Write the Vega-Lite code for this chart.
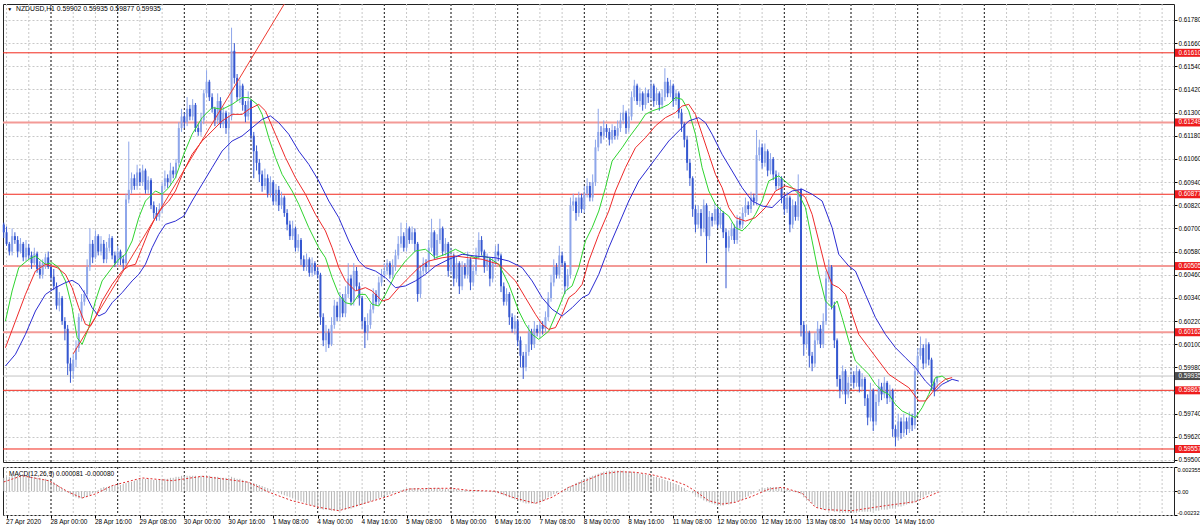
{
"$schema":"https://vega.github.io/schema/vega-lite/v6.json",
"background":"white",
"padding":{"left":1,"top":3,"right":0,"bottom":0},
"spacing":2,
"resolve":{"scale":{"x":"independent","y":"independent","color":"independent"}},
"config":{"view":{"stroke":"#222222","strokeWidth":1},"font":"Liberation Sans","axis":{"labelFont":"Liberation Sans","labelFontSize":6.5,"labelColor":"#000000","tickColor":"#000000","domain":false,"labelOverlap":false,"labelSeparation":0},"text":{"font":"Liberation Sans"}},
"datasets":{
"vgrid":[{"i":-16},{"i":-8},{"i":0},{"i":8},{"i":16},{"i":24},{"i":32},{"i":40},{"i":48},{"i":56},{"i":64},{"i":72},{"i":80},{"i":88},{"i":96},{"i":104},{"i":112},{"i":120},{"i":128},{"i":136},{"i":144},{"i":152},{"i":160},{"i":168},{"i":176},{"i":184},{"i":192},{"i":200},{"i":208},{"i":216},{"i":224},{"i":232},{"i":240},{"i":248},{"i":256},{"i":264},{"i":272},{"i":280},{"i":288},{"i":296},{"i":304},{"i":312},{"i":320},{"i":328},{"i":336},{"i":344},{"i":352},{"i":360},{"i":368},{"i":376},{"i":384},{"i":392},{"i":400}],
"days":[{"i":0},{"i":24},{"i":48},{"i":72},{"i":96},{"i":120},{"i":144},{"i":168},{"i":192},{"i":216},{"i":240},{"i":264},{"i":288},{"i":312},{"i":336}],
"lvthin":[{"p":0.6161},{"p":0.60877},{"p":0.59861},{"p":0.59557}],
"lvthick":[{"p":0.61249},{"p":0.60505},{"p":0.60162}],
"lvall":[{"p":0.6161},{"p":0.61249},{"p":0.60877},{"p":0.60505},{"p":0.60162},{"p":0.59861},{"p":0.59557}],
"cur":[{"p":0.59935}],
"trend":[{"i":8,"p":0.6005},{"i":87,"p":0.61935}],
"head":[{"t":"NZDUSD,H1  0.59902 0.59935 0.59877 0.59935"}],
"mhead":[{"t":"MACD(12,26,9) 0.000081 -0.000080"}],
"bars":[
{"i":-17,"o":0.6072,"h":0.6073,"l":0.6065,"c":0.6068,"m":0.0013},
{"i":-16,"o":0.6068,"h":0.6071,"l":0.6061,"c":0.6062,"m":0.0014},
{"i":-15,"o":0.6062,"h":0.6063,"l":0.6056,"c":0.6058,"m":0.0014},
{"i":-14,"o":0.6058,"h":0.607,"l":0.6056,"c":0.6066,"m":0.0015},
{"i":-13,"o":0.6066,"h":0.6068,"l":0.6062,"c":0.6064,"m":0.0015},
{"i":-12,"o":0.6064,"h":0.6066,"l":0.6055,"c":0.6058,"m":0.0015},
{"i":-11,"o":0.6058,"h":0.6065,"l":0.6057,"c":0.6062,"m":0.0015},
{"i":-10,"o":0.6062,"h":0.6063,"l":0.6053,"c":0.6055,"m":0.0015},
{"i":-9,"o":0.6055,"h":0.6064,"l":0.6053,"c":0.606,"m":0.0015},
{"i":-8,"o":0.606,"h":0.6062,"l":0.6054,"c":0.6056,"m":0.0014},
{"i":-7,"o":0.6056,"h":0.6058,"l":0.6049,"c":0.6052,"m":0.0014},
{"i":-6,"o":0.6052,"h":0.606,"l":0.6051,"c":0.6057,"m":0.0014},
{"i":-5,"o":0.6057,"h":0.6058,"l":0.6047,"c":0.6049,"m":0.0013},
{"i":-4,"o":0.6049,"h":0.6053,"l":0.6044,"c":0.6046,"m":0.0013},
{"i":-3,"o":0.6046,"h":0.6054,"l":0.6044,"c":0.6052,"m":0.0012},
{"i":-2,"o":0.6052,"h":0.6057,"l":0.6049,"c":0.6055,"m":0.0012},
{"i":-1,"o":0.6055,"h":0.6058,"l":0.6049,"c":0.605,"m":0.0011},
{"i":0,"o":0.605,"h":0.6051,"l":0.6043,"c":0.6045,"m":0.001},
{"i":1,"o":0.6045,"h":0.6049,"l":0.6038,"c":0.604,"m":0.0009},
{"i":2,"o":0.604,"h":0.6042,"l":0.6028,"c":0.603,"m":0.0007},
{"i":3,"o":0.603,"h":0.6037,"l":0.6027,"c":0.6034,"m":0.0005},
{"i":4,"o":0.6034,"h":0.6035,"l":0.602,"c":0.6022,"m":0.0003},
{"i":5,"o":0.6022,"h":0.6024,"l":0.6012,"c":0.6018,"m":0.0001},
{"i":6,"o":0.6018,"h":0.602,"l":0.5994,"c":0.6,"m":-0.0001},
{"i":7,"o":0.6,"h":0.6003,"l":0.599,"c":0.5996,"m":-0.0003},
{"i":8,"o":0.5996,"h":0.6005,"l":0.5992,"c":0.6002,"m":-0.0005},
{"i":9,"o":0.6002,"h":0.6012,"l":0.5998,"c":0.6008,"m":-0.0006},
{"i":10,"o":0.6008,"h":0.6026,"l":0.6006,"c":0.6024,"m":-0.0007},
{"i":11,"o":0.6024,"h":0.6036,"l":0.6022,"c":0.6032,"m":-0.0007},
{"i":12,"o":0.6032,"h":0.6038,"l":0.603,"c":0.6036,"m":-0.0006},
{"i":13,"o":0.6036,"h":0.6054,"l":0.6034,"c":0.605,"m":-0.0005},
{"i":14,"o":0.605,"h":0.607,"l":0.6048,"c":0.6062,"m":-0.0004},
{"i":15,"o":0.6062,"h":0.6064,"l":0.6052,"c":0.6055,"m":-0.0002},
{"i":16,"o":0.6055,"h":0.6069,"l":0.6054,"c":0.6066,"m":-0.0001},
{"i":17,"o":0.6066,"h":0.6067,"l":0.6056,"c":0.6058,"m":0.0001},
{"i":18,"o":0.6058,"h":0.6066,"l":0.6056,"c":0.6062,"m":0.0003},
{"i":19,"o":0.6062,"h":0.6064,"l":0.6052,"c":0.6054,"m":0.0004},
{"i":20,"o":0.6054,"h":0.6063,"l":0.6052,"c":0.606,"m":0.0004},
{"i":21,"o":0.606,"h":0.6067,"l":0.6058,"c":0.6065,"m":0.0005},
{"i":22,"o":0.6065,"h":0.6066,"l":0.6054,"c":0.6056,"m":0.0005},
{"i":23,"o":0.6056,"h":0.6058,"l":0.605,"c":0.6052,"m":0.0006},
{"i":24,"o":0.6052,"h":0.6061,"l":0.605,"c":0.6058,"m":0.0006},
{"i":25,"o":0.6058,"h":0.6059,"l":0.6051,"c":0.6054,"m":0.0006},
{"i":26,"o":0.6054,"h":0.6056,"l":0.6048,"c":0.6052,"m":0.0007},
{"i":27,"o":0.6052,"h":0.6088,"l":0.6051,"c":0.6085,"m":0.0008},
{"i":28,"o":0.6085,"h":0.6115,"l":0.6083,"c":0.609,"m":0.0009},
{"i":29,"o":0.609,"h":0.6099,"l":0.6088,"c":0.6096,"m":0.0009},
{"i":30,"o":0.6096,"h":0.6098,"l":0.609,"c":0.6092,"m":0.001},
{"i":31,"o":0.6092,"h":0.6103,"l":0.609,"c":0.6099,"m":0.0011},
{"i":32,"o":0.6099,"h":0.6101,"l":0.6092,"c":0.6094,"m":0.0012},
{"i":33,"o":0.6094,"h":0.6103,"l":0.6092,"c":0.61,"m":0.0012},
{"i":34,"o":0.61,"h":0.6101,"l":0.6088,"c":0.609,"m":0.0012},
{"i":35,"o":0.609,"h":0.6097,"l":0.6088,"c":0.6095,"m":0.0012},
{"i":36,"o":0.6095,"h":0.6096,"l":0.608,"c":0.6082,"m":0.0011},
{"i":37,"o":0.6082,"h":0.6084,"l":0.6075,"c":0.6078,"m":0.0011},
{"i":38,"o":0.6078,"h":0.6081,"l":0.6074,"c":0.6076,"m":0.0011},
{"i":39,"o":0.6076,"h":0.6083,"l":0.6074,"c":0.608,"m":0.0011},
{"i":40,"o":0.608,"h":0.6094,"l":0.6078,"c":0.6092,"m":0.0012},
{"i":41,"o":0.6092,"h":0.61,"l":0.609,"c":0.6096,"m":0.0012},
{"i":42,"o":0.6096,"h":0.6098,"l":0.6091,"c":0.6094,"m":0.0012},
{"i":43,"o":0.6094,"h":0.6104,"l":0.6092,"c":0.61,"m":0.0013},
{"i":44,"o":0.61,"h":0.6102,"l":0.6096,"c":0.6098,"m":0.0013},
{"i":45,"o":0.6098,"h":0.6106,"l":0.6096,"c":0.6104,"m":0.0014},
{"i":46,"o":0.6104,"h":0.6125,"l":0.6102,"c":0.6122,"m":0.0014},
{"i":47,"o":0.6122,"h":0.6132,"l":0.612,"c":0.6128,"m":0.0015},
{"i":48,"o":0.6128,"h":0.613,"l":0.6122,"c":0.6125,"m":0.0015},
{"i":49,"o":0.6125,"h":0.6138,"l":0.6123,"c":0.6132,"m":0.0015},
{"i":50,"o":0.6132,"h":0.6134,"l":0.6126,"c":0.6128,"m":0.0015},
{"i":51,"o":0.6128,"h":0.6137,"l":0.6126,"c":0.6134,"m":0.0015},
{"i":52,"o":0.6134,"h":0.6135,"l":0.612,"c":0.6122,"m":0.0015},
{"i":53,"o":0.6122,"h":0.6124,"l":0.6118,"c":0.612,"m":0.0014},
{"i":54,"o":0.612,"h":0.613,"l":0.6118,"c":0.6126,"m":0.0015},
{"i":55,"o":0.6126,"h":0.6142,"l":0.6124,"c":0.614,"m":0.0015},
{"i":56,"o":0.614,"h":0.6152,"l":0.6138,"c":0.6146,"m":0.0015},
{"i":57,"o":0.6146,"h":0.6147,"l":0.6136,"c":0.6138,"m":0.0015},
{"i":58,"o":0.6138,"h":0.614,"l":0.613,"c":0.6132,"m":0.0014},
{"i":59,"o":0.6132,"h":0.6133,"l":0.6123,"c":0.6126,"m":0.0014},
{"i":60,"o":0.6126,"h":0.614,"l":0.6124,"c":0.6136,"m":0.0014},
{"i":61,"o":0.6136,"h":0.6138,"l":0.6122,"c":0.6124,"m":0.0013},
{"i":62,"o":0.6124,"h":0.6133,"l":0.6122,"c":0.613,"m":0.0013},
{"i":63,"o":0.613,"h":0.6131,"l":0.6119,"c":0.6122,"m":0.0013},
{"i":64,"o":0.6122,"h":0.613,"l":0.6105,"c":0.6128,"m":0.0013},
{"i":65,"o":0.6128,"h":0.6174,"l":0.6126,"c":0.6162,"m":0.0014},
{"i":66,"o":0.6162,"h":0.6166,"l":0.6145,"c":0.6148,"m":0.0013},
{"i":67,"o":0.6148,"h":0.615,"l":0.6136,"c":0.6138,"m":0.0012},
{"i":68,"o":0.6138,"h":0.6147,"l":0.6135,"c":0.6144,"m":0.0012},
{"i":69,"o":0.6144,"h":0.6145,"l":0.6131,"c":0.6134,"m":0.0011},
{"i":70,"o":0.6134,"h":0.6136,"l":0.6125,"c":0.6128,"m":0.001},
{"i":71,"o":0.6128,"h":0.6141,"l":0.6126,"c":0.6136,"m":0.0009},
{"i":72,"o":0.6136,"h":0.6137,"l":0.6116,"c":0.6118,"m":0.0008},
{"i":73,"o":0.6118,"h":0.612,"l":0.6096,"c":0.611,"m":0.0008},
{"i":74,"o":0.611,"h":0.6113,"l":0.61,"c":0.6104,"m":0.0007},
{"i":75,"o":0.6104,"h":0.6106,"l":0.6094,"c":0.6098,"m":0.0006},
{"i":76,"o":0.6098,"h":0.61,"l":0.6089,"c":0.6092,"m":0.0005},
{"i":77,"o":0.6092,"h":0.6101,"l":0.609,"c":0.6096,"m":0.0004},
{"i":78,"o":0.6096,"h":0.6098,"l":0.6086,"c":0.6088,"m":0.0003},
{"i":79,"o":0.6088,"h":0.6097,"l":0.6086,"c":0.6094,"m":0.0002},
{"i":80,"o":0.6094,"h":0.6095,"l":0.6082,"c":0.6084,"m":0.0001},
{"i":81,"o":0.6084,"h":0.6093,"l":0.6082,"c":0.609,"m":0},
{"i":82,"o":0.609,"h":0.6092,"l":0.6079,"c":0.6082,"m":-0.0002},
{"i":83,"o":0.6082,"h":0.6089,"l":0.608,"c":0.6086,"m":-0.0003},
{"i":84,"o":0.6086,"h":0.6087,"l":0.6076,"c":0.6078,"m":-0.0004},
{"i":85,"o":0.6078,"h":0.608,"l":0.6069,"c":0.6072,"m":-0.0005},
{"i":86,"o":0.6072,"h":0.6074,"l":0.6064,"c":0.6066,"m":-0.0006},
{"i":87,"o":0.6066,"h":0.6074,"l":0.6064,"c":0.607,"m":-0.0007},
{"i":88,"o":0.607,"h":0.6071,"l":0.6058,"c":0.606,"m":-0.0008},
{"i":89,"o":0.606,"h":0.6067,"l":0.6058,"c":0.6064,"m":-0.0009},
{"i":90,"o":0.6064,"h":0.6065,"l":0.6051,"c":0.6054,"m":-0.001},
{"i":91,"o":0.6054,"h":0.6056,"l":0.6048,"c":0.605,"m":-0.0011},
{"i":92,"o":0.605,"h":0.6057,"l":0.6048,"c":0.6054,"m":-0.0012},
{"i":93,"o":0.6054,"h":0.6055,"l":0.6045,"c":0.6047,"m":-0.0013},
{"i":94,"o":0.6047,"h":0.6055,"l":0.6045,"c":0.6052,"m":-0.0014},
{"i":95,"o":0.6052,"h":0.6053,"l":0.6046,"c":0.6048,"m":-0.0015},
{"i":96,"o":0.6048,"h":0.605,"l":0.6044,"c":0.6046,"m":-0.0016},
{"i":97,"o":0.6046,"h":0.6047,"l":0.602,"c":0.6024,"m":-0.0017},
{"i":98,"o":0.6024,"h":0.6026,"l":0.6009,"c":0.6012,"m":-0.0018},
{"i":99,"o":0.6012,"h":0.602,"l":0.6006,"c":0.6016,"m":-0.0018},
{"i":100,"o":0.6016,"h":0.6018,"l":0.6008,"c":0.601,"m":-0.0018},
{"i":101,"o":0.601,"h":0.6024,"l":0.6009,"c":0.602,"m":-0.0019},
{"i":102,"o":0.602,"h":0.6033,"l":0.6018,"c":0.603,"m":-0.0019},
{"i":103,"o":0.603,"h":0.6032,"l":0.6022,"c":0.6024,"m":-0.0019},
{"i":104,"o":0.6024,"h":0.6037,"l":0.6022,"c":0.6034,"m":-0.0019},
{"i":105,"o":0.6034,"h":0.6036,"l":0.6024,"c":0.6026,"m":-0.0018},
{"i":106,"o":0.6026,"h":0.604,"l":0.6024,"c":0.6036,"m":-0.0018},
{"i":107,"o":0.6036,"h":0.6052,"l":0.6034,"c":0.6044,"m":-0.0017},
{"i":108,"o":0.6044,"h":0.6046,"l":0.603,"c":0.6032,"m":-0.0017},
{"i":109,"o":0.6032,"h":0.6052,"l":0.603,"c":0.6048,"m":-0.0016},
{"i":110,"o":0.6048,"h":0.605,"l":0.6038,"c":0.604,"m":-0.0015},
{"i":111,"o":0.604,"h":0.6042,"l":0.603,"c":0.6034,"m":-0.0014},
{"i":112,"o":0.6034,"h":0.6035,"l":0.6018,"c":0.6022,"m":-0.0013},
{"i":113,"o":0.6022,"h":0.6024,"l":0.6008,"c":0.6016,"m":-0.0012},
{"i":114,"o":0.6016,"h":0.6026,"l":0.6012,"c":0.602,"m":-0.0011},
{"i":115,"o":0.602,"h":0.6031,"l":0.6018,"c":0.6028,"m":-0.001},
{"i":116,"o":0.6028,"h":0.6039,"l":0.6026,"c":0.6036,"m":-0.0009},
{"i":117,"o":0.6036,"h":0.6038,"l":0.603,"c":0.6032,"m":-0.0008},
{"i":118,"o":0.6032,"h":0.6045,"l":0.603,"c":0.6042,"m":-0.0007},
{"i":119,"o":0.6042,"h":0.6049,"l":0.604,"c":0.6046,"m":-0.0006},
{"i":120,"o":0.6046,"h":0.6052,"l":0.6044,"c":0.6048,"m":-0.0005},
{"i":121,"o":0.6048,"h":0.6054,"l":0.6046,"c":0.6052,"m":-0.0004},
{"i":122,"o":0.6052,"h":0.6053,"l":0.6044,"c":0.6046,"m":-0.0003},
{"i":123,"o":0.6046,"h":0.6054,"l":0.6044,"c":0.605,"m":-0.0002},
{"i":124,"o":0.605,"h":0.6059,"l":0.6048,"c":0.6056,"m":-0.0001},
{"i":125,"o":0.6056,"h":0.6066,"l":0.6054,"c":0.6062,"m":0},
{"i":126,"o":0.6062,"h":0.6073,"l":0.606,"c":0.6066,"m":0.0001},
{"i":127,"o":0.6066,"h":0.6068,"l":0.6058,"c":0.606,"m":0.0002},
{"i":128,"o":0.606,"h":0.6073,"l":0.6058,"c":0.607,"m":0.0002},
{"i":129,"o":0.607,"h":0.6071,"l":0.6062,"c":0.6064,"m":0.0003},
{"i":130,"o":0.6064,"h":0.6071,"l":0.6062,"c":0.6068,"m":0.0003},
{"i":131,"o":0.6068,"h":0.607,"l":0.6058,"c":0.6062,"m":0.0003},
{"i":132,"o":0.6062,"h":0.6063,"l":0.6032,"c":0.6036,"m":0.0003},
{"i":133,"o":0.6036,"h":0.6051,"l":0.6034,"c":0.6048,"m":0.0002},
{"i":134,"o":0.6048,"h":0.6055,"l":0.6046,"c":0.6052,"m":0.0002},
{"i":135,"o":0.6052,"h":0.6054,"l":0.6047,"c":0.605,"m":0.0003},
{"i":136,"o":0.605,"h":0.6064,"l":0.6048,"c":0.606,"m":0.0003},
{"i":137,"o":0.606,"h":0.6075,"l":0.6058,"c":0.6068,"m":0.0003},
{"i":138,"o":0.6068,"h":0.6069,"l":0.6054,"c":0.6056,"m":0.0003},
{"i":139,"o":0.6056,"h":0.6067,"l":0.6054,"c":0.6064,"m":0.0003},
{"i":140,"o":0.6064,"h":0.6075,"l":0.6062,"c":0.607,"m":0.0003},
{"i":141,"o":0.607,"h":0.6071,"l":0.6056,"c":0.6058,"m":0.0002},
{"i":142,"o":0.6058,"h":0.6065,"l":0.6056,"c":0.6062,"m":0.0002},
{"i":143,"o":0.6062,"h":0.6063,"l":0.6045,"c":0.6048,"m":0.0002},
{"i":144,"o":0.6048,"h":0.606,"l":0.6046,"c":0.6056,"m":0.0002},
{"i":145,"o":0.6056,"h":0.6057,"l":0.604,"c":0.6044,"m":0.0002},
{"i":146,"o":0.6044,"h":0.6055,"l":0.6042,"c":0.6052,"m":0.0002},
{"i":147,"o":0.6052,"h":0.6053,"l":0.6036,"c":0.604,"m":0.0001},
{"i":148,"o":0.604,"h":0.6053,"l":0.6038,"c":0.605,"m":0.0001},
{"i":149,"o":0.605,"h":0.6052,"l":0.6044,"c":0.6046,"m":0.0001},
{"i":150,"o":0.6046,"h":0.6058,"l":0.6044,"c":0.6054,"m":0.0001},
{"i":151,"o":0.6054,"h":0.6055,"l":0.6038,"c":0.6042,"m":0.0001},
{"i":152,"o":0.6042,"h":0.6051,"l":0.604,"c":0.6048,"m":0.0001},
{"i":153,"o":0.6048,"h":0.606,"l":0.6046,"c":0.6056,"m":0.0001},
{"i":154,"o":0.6056,"h":0.6068,"l":0.6054,"c":0.6064,"m":0.0001},
{"i":155,"o":0.6064,"h":0.6066,"l":0.6056,"c":0.6058,"m":0},
{"i":156,"o":0.6058,"h":0.6059,"l":0.6047,"c":0.605,"m":0},
{"i":157,"o":0.605,"h":0.6057,"l":0.6048,"c":0.6054,"m":0},
{"i":158,"o":0.6054,"h":0.6055,"l":0.604,"c":0.6044,"m":0},
{"i":159,"o":0.6044,"h":0.6055,"l":0.6042,"c":0.6052,"m":-0.0001},
{"i":160,"o":0.6052,"h":0.6061,"l":0.605,"c":0.6058,"m":-0.0001},
{"i":161,"o":0.6058,"h":0.6062,"l":0.6053,"c":0.6056,"m":-0.0002},
{"i":162,"o":0.6056,"h":0.6057,"l":0.6037,"c":0.604,"m":-0.0003},
{"i":163,"o":0.604,"h":0.6042,"l":0.603,"c":0.6032,"m":-0.0004},
{"i":164,"o":0.6032,"h":0.6039,"l":0.603,"c":0.6036,"m":-0.0005},
{"i":165,"o":0.6036,"h":0.6037,"l":0.602,"c":0.6024,"m":-0.0006},
{"i":166,"o":0.6024,"h":0.6026,"l":0.6016,"c":0.6018,"m":-0.0007},
{"i":167,"o":0.6018,"h":0.6025,"l":0.6015,"c":0.6022,"m":-0.0008},
{"i":168,"o":0.6022,"h":0.6023,"l":0.6009,"c":0.6012,"m":-0.0009},
{"i":169,"o":0.6012,"h":0.6014,"l":0.5998,"c":0.6004,"m":-0.001},
{"i":170,"o":0.6004,"h":0.6006,"l":0.5992,"c":0.5998,"m":-0.0011},
{"i":171,"o":0.5998,"h":0.601,"l":0.5996,"c":0.6006,"m":-0.0012},
{"i":172,"o":0.6006,"h":0.602,"l":0.6004,"c":0.6016,"m":-0.0012},
{"i":173,"o":0.6016,"h":0.6018,"l":0.6007,"c":0.601,"m":-0.0012},
{"i":174,"o":0.601,"h":0.6022,"l":0.6008,"c":0.6018,"m":-0.0012},
{"i":175,"o":0.6018,"h":0.602,"l":0.6014,"c":0.6016,"m":-0.0012},
{"i":176,"o":0.6016,"h":0.6023,"l":0.6013,"c":0.602,"m":-0.0011},
{"i":177,"o":0.602,"h":0.6022,"l":0.6015,"c":0.6018,"m":-0.001},
{"i":178,"o":0.6018,"h":0.6027,"l":0.6016,"c":0.6024,"m":-0.0008},
{"i":179,"o":0.6024,"h":0.6037,"l":0.6022,"c":0.6034,"m":-0.0006},
{"i":180,"o":0.6034,"h":0.6046,"l":0.6032,"c":0.6042,"m":-0.0005},
{"i":181,"o":0.6042,"h":0.6054,"l":0.604,"c":0.605,"m":-0.0003},
{"i":182,"o":0.605,"h":0.6052,"l":0.6044,"c":0.6046,"m":-0.0002},
{"i":183,"o":0.6046,"h":0.6061,"l":0.6044,"c":0.6056,"m":0},
{"i":184,"o":0.6056,"h":0.6058,"l":0.605,"c":0.6052,"m":0.0001},
{"i":185,"o":0.6052,"h":0.6053,"l":0.6036,"c":0.604,"m":0.0002},
{"i":186,"o":0.604,"h":0.6049,"l":0.6038,"c":0.6046,"m":0.0004},
{"i":187,"o":0.6046,"h":0.6086,"l":0.6044,"c":0.6082,"m":0.0005},
{"i":188,"o":0.6082,"h":0.6088,"l":0.6079,"c":0.6084,"m":0.0006},
{"i":189,"o":0.6084,"h":0.6086,"l":0.6074,"c":0.6078,"m":0.0008},
{"i":190,"o":0.6078,"h":0.6089,"l":0.6076,"c":0.6086,"m":0.0009},
{"i":191,"o":0.6086,"h":0.6088,"l":0.6078,"c":0.608,"m":0.0011},
{"i":192,"o":0.608,"h":0.6092,"l":0.6078,"c":0.6088,"m":0.0012},
{"i":193,"o":0.6088,"h":0.6096,"l":0.6086,"c":0.6092,"m":0.0013},
{"i":194,"o":0.6092,"h":0.6094,"l":0.6084,"c":0.6086,"m":0.0014},
{"i":195,"o":0.6086,"h":0.6098,"l":0.6084,"c":0.6094,"m":0.0015},
{"i":196,"o":0.6094,"h":0.6116,"l":0.6092,"c":0.6112,"m":0.0016},
{"i":197,"o":0.6112,"h":0.6132,"l":0.611,"c":0.612,"m":0.0017},
{"i":198,"o":0.612,"h":0.6123,"l":0.6114,"c":0.6118,"m":0.0018},
{"i":199,"o":0.6118,"h":0.6126,"l":0.6116,"c":0.6122,"m":0.0019},
{"i":200,"o":0.6122,"h":0.6124,"l":0.6117,"c":0.612,"m":0.0019},
{"i":201,"o":0.612,"h":0.6122,"l":0.6113,"c":0.6116,"m":0.002},
{"i":202,"o":0.6116,"h":0.6124,"l":0.6114,"c":0.6121,"m":0.002},
{"i":203,"o":0.6121,"h":0.6123,"l":0.6116,"c":0.6118,"m":0.002},
{"i":204,"o":0.6118,"h":0.6126,"l":0.6116,"c":0.6122,"m":0.002},
{"i":205,"o":0.6122,"h":0.613,"l":0.612,"c":0.6126,"m":0.002},
{"i":206,"o":0.6126,"h":0.6134,"l":0.6124,"c":0.613,"m":0.002},
{"i":207,"o":0.613,"h":0.6131,"l":0.6119,"c":0.6122,"m":0.0019},
{"i":208,"o":0.6122,"h":0.6132,"l":0.612,"c":0.6128,"m":0.0019},
{"i":209,"o":0.6128,"h":0.6141,"l":0.6126,"c":0.6138,"m":0.0019},
{"i":210,"o":0.6138,"h":0.6147,"l":0.6136,"c":0.6144,"m":0.0018},
{"i":211,"o":0.6144,"h":0.6145,"l":0.6134,"c":0.6136,"m":0.0018},
{"i":212,"o":0.6136,"h":0.6143,"l":0.6133,"c":0.614,"m":0.0017},
{"i":213,"o":0.614,"h":0.6141,"l":0.6131,"c":0.6134,"m":0.0017},
{"i":214,"o":0.6134,"h":0.6143,"l":0.6132,"c":0.614,"m":0.0016},
{"i":215,"o":0.614,"h":0.6142,"l":0.6135,"c":0.6138,"m":0.0016},
{"i":216,"o":0.6138,"h":0.6147,"l":0.6136,"c":0.6144,"m":0.0015},
{"i":217,"o":0.6144,"h":0.6145,"l":0.6133,"c":0.6136,"m":0.0014},
{"i":218,"o":0.6136,"h":0.6143,"l":0.6134,"c":0.614,"m":0.0014},
{"i":219,"o":0.614,"h":0.6141,"l":0.6131,"c":0.6134,"m":0.0013},
{"i":220,"o":0.6134,"h":0.6142,"l":0.6132,"c":0.6138,"m":0.0012},
{"i":221,"o":0.6138,"h":0.6153,"l":0.6136,"c":0.6146,"m":0.0011},
{"i":222,"o":0.6146,"h":0.6148,"l":0.6138,"c":0.614,"m":0.001},
{"i":223,"o":0.614,"h":0.6147,"l":0.6138,"c":0.6144,"m":0.0009},
{"i":224,"o":0.6144,"h":0.6145,"l":0.6133,"c":0.6136,"m":0.0008},
{"i":225,"o":0.6136,"h":0.6142,"l":0.6134,"c":0.614,"m":0.0007},
{"i":226,"o":0.614,"h":0.6141,"l":0.6127,"c":0.613,"m":0.0006},
{"i":227,"o":0.613,"h":0.6132,"l":0.612,"c":0.6124,"m":0.0004},
{"i":228,"o":0.6124,"h":0.6125,"l":0.6112,"c":0.6116,"m":0.0003},
{"i":229,"o":0.6116,"h":0.6118,"l":0.61,"c":0.6104,"m":0.0001},
{"i":230,"o":0.6104,"h":0.6106,"l":0.6092,"c":0.6096,"m":0},
{"i":231,"o":0.6096,"h":0.6097,"l":0.6076,"c":0.608,"m":-0.0002},
{"i":232,"o":0.608,"h":0.6082,"l":0.6068,"c":0.6072,"m":-0.0004},
{"i":233,"o":0.6072,"h":0.6082,"l":0.607,"c":0.6078,"m":-0.0006},
{"i":234,"o":0.6078,"h":0.608,"l":0.6066,"c":0.607,"m":-0.0007},
{"i":235,"o":0.607,"h":0.6085,"l":0.6068,"c":0.6082,"m":-0.0009},
{"i":236,"o":0.6082,"h":0.6083,"l":0.6052,"c":0.6066,"m":-0.001},
{"i":237,"o":0.6066,"h":0.6079,"l":0.6064,"c":0.6076,"m":-0.0011},
{"i":238,"o":0.6076,"h":0.6078,"l":0.6071,"c":0.6074,"m":-0.0012},
{"i":239,"o":0.6074,"h":0.6083,"l":0.6072,"c":0.608,"m":-0.0013},
{"i":240,"o":0.608,"h":0.6081,"l":0.607,"c":0.6072,"m":-0.0014},
{"i":241,"o":0.6072,"h":0.6081,"l":0.607,"c":0.6078,"m":-0.0014},
{"i":242,"o":0.6078,"h":0.6079,"l":0.6065,"c":0.6068,"m":-0.0014},
{"i":243,"o":0.6068,"h":0.607,"l":0.6039,"c":0.606,"m":-0.0013},
{"i":244,"o":0.606,"h":0.6069,"l":0.6058,"c":0.6066,"m":-0.0013},
{"i":245,"o":0.6066,"h":0.6073,"l":0.6064,"c":0.607,"m":-0.0012},
{"i":246,"o":0.607,"h":0.6072,"l":0.6062,"c":0.6064,"m":-0.0011},
{"i":247,"o":0.6064,"h":0.6077,"l":0.6062,"c":0.6074,"m":-0.001},
{"i":248,"o":0.6074,"h":0.6076,"l":0.607,"c":0.6072,"m":-0.0009},
{"i":249,"o":0.6072,"h":0.6081,"l":0.607,"c":0.6078,"m":-0.0008},
{"i":250,"o":0.6078,"h":0.6086,"l":0.6076,"c":0.6082,"m":-0.0006},
{"i":251,"o":0.6082,"h":0.6084,"l":0.6077,"c":0.608,"m":-0.0005},
{"i":252,"o":0.608,"h":0.6089,"l":0.6078,"c":0.6086,"m":-0.0003},
{"i":253,"o":0.6086,"h":0.6088,"l":0.6082,"c":0.6084,"m":-0.0002},
{"i":254,"o":0.6084,"h":0.6121,"l":0.6082,"c":0.6108,"m":0},
{"i":255,"o":0.6108,"h":0.6116,"l":0.6105,"c":0.6112,"m":0.0002},
{"i":256,"o":0.6112,"h":0.6114,"l":0.6101,"c":0.6104,"m":0.0003},
{"i":257,"o":0.6104,"h":0.6114,"l":0.6102,"c":0.611,"m":0.0003},
{"i":258,"o":0.611,"h":0.6111,"l":0.6097,"c":0.61,"m":0.0004},
{"i":259,"o":0.61,"h":0.6109,"l":0.6098,"c":0.6106,"m":0.0004},
{"i":260,"o":0.6106,"h":0.6107,"l":0.6095,"c":0.6098,"m":0.0004},
{"i":261,"o":0.6098,"h":0.61,"l":0.609,"c":0.6092,"m":0.0004},
{"i":262,"o":0.6092,"h":0.6099,"l":0.609,"c":0.6096,"m":0.0004},
{"i":263,"o":0.6096,"h":0.6097,"l":0.6083,"c":0.6086,"m":0.0003},
{"i":264,"o":0.6086,"h":0.6088,"l":0.6077,"c":0.608,"m":0.0003},
{"i":265,"o":0.608,"h":0.6089,"l":0.6078,"c":0.6086,"m":0.0002},
{"i":266,"o":0.6086,"h":0.6087,"l":0.6068,"c":0.6072,"m":0.0001},
{"i":267,"o":0.6072,"h":0.6085,"l":0.607,"c":0.6082,"m":0},
{"i":268,"o":0.6082,"h":0.6084,"l":0.6074,"c":0.6076,"m":-0.0001},
{"i":269,"o":0.6076,"h":0.6098,"l":0.6074,"c":0.609,"m":-0.0002},
{"i":270,"o":0.609,"h":0.6091,"l":0.6014,"c":0.602,"m":-0.0003},
{"i":271,"o":0.602,"h":0.6022,"l":0.6004,"c":0.601,"m":-0.0006},
{"i":272,"o":0.601,"h":0.602,"l":0.6008,"c":0.6016,"m":-0.0008},
{"i":273,"o":0.6016,"h":0.6017,"l":0.5998,"c":0.6004,"m":-0.001},
{"i":274,"o":0.6004,"h":0.6006,"l":0.5996,"c":0.6,"m":-0.0012},
{"i":275,"o":0.6,"h":0.6016,"l":0.5998,"c":0.6012,"m":-0.0014},
{"i":276,"o":0.6012,"h":0.6022,"l":0.601,"c":0.6018,"m":-0.0016},
{"i":277,"o":0.6018,"h":0.602,"l":0.6008,"c":0.601,"m":-0.0017},
{"i":278,"o":0.601,"h":0.6026,"l":0.6008,"c":0.6022,"m":-0.0018},
{"i":279,"o":0.6022,"h":0.6048,"l":0.602,"c":0.6044,"m":-0.0018},
{"i":280,"o":0.6044,"h":0.6054,"l":0.6042,"c":0.605,"m":-0.0019},
{"i":281,"o":0.605,"h":0.6051,"l":0.6028,"c":0.603,"m":-0.0019},
{"i":282,"o":0.603,"h":0.6032,"l":0.6008,"c":0.6012,"m":-0.002},
{"i":283,"o":0.6012,"h":0.6013,"l":0.5988,"c":0.5992,"m":-0.002},
{"i":284,"o":0.5992,"h":0.5994,"l":0.5982,"c":0.5986,"m":-0.0021},
{"i":285,"o":0.5986,"h":0.5999,"l":0.5984,"c":0.5996,"m":-0.0021},
{"i":286,"o":0.5996,"h":0.5997,"l":0.5979,"c":0.5984,"m":-0.0021},
{"i":287,"o":0.5984,"h":0.5993,"l":0.5982,"c":0.599,"m":-0.0021},
{"i":288,"o":0.599,"h":0.5998,"l":0.5988,"c":0.5994,"m":-0.0021},
{"i":289,"o":0.5994,"h":0.5996,"l":0.5987,"c":0.599,"m":-0.0021},
{"i":290,"o":0.599,"h":0.5999,"l":0.5988,"c":0.5996,"m":-0.0021},
{"i":291,"o":0.5996,"h":0.5997,"l":0.5985,"c":0.5988,"m":-0.002},
{"i":292,"o":0.5988,"h":0.5995,"l":0.5986,"c":0.5992,"m":-0.002},
{"i":293,"o":0.5992,"h":0.5993,"l":0.5978,"c":0.5982,"m":-0.002},
{"i":294,"o":0.5982,"h":0.5984,"l":0.5968,"c":0.5972,"m":-0.002},
{"i":295,"o":0.5972,"h":0.599,"l":0.597,"c":0.5986,"m":-0.002},
{"i":296,"o":0.5986,"h":0.5987,"l":0.5965,"c":0.597,"m":-0.0019},
{"i":297,"o":0.597,"h":0.5984,"l":0.5968,"c":0.598,"m":-0.0019},
{"i":298,"o":0.598,"h":0.5992,"l":0.5978,"c":0.5988,"m":-0.0019},
{"i":299,"o":0.5988,"h":0.599,"l":0.5981,"c":0.5984,"m":-0.0018},
{"i":300,"o":0.5984,"h":0.5993,"l":0.5982,"c":0.599,"m":-0.0018},
{"i":301,"o":0.599,"h":0.5991,"l":0.5979,"c":0.5982,"m":-0.0018},
{"i":302,"o":0.5982,"h":0.5989,"l":0.598,"c":0.5986,"m":-0.0017},
{"i":303,"o":0.5986,"h":0.5987,"l":0.5962,"c":0.5966,"m":-0.0017},
{"i":304,"o":0.5966,"h":0.5968,"l":0.5957,"c":0.5962,"m":-0.0016},
{"i":305,"o":0.5962,"h":0.5974,"l":0.596,"c":0.597,"m":-0.0015},
{"i":306,"o":0.597,"h":0.5972,"l":0.5961,"c":0.5964,"m":-0.0015},
{"i":307,"o":0.5964,"h":0.5974,"l":0.5962,"c":0.597,"m":-0.0014},
{"i":308,"o":0.597,"h":0.5972,"l":0.5963,"c":0.5966,"m":-0.0013},
{"i":309,"o":0.5966,"h":0.5975,"l":0.5964,"c":0.5972,"m":-0.0012},
{"i":310,"o":0.5972,"h":0.5974,"l":0.5965,"c":0.5968,"m":-0.0012},
{"i":311,"o":0.5968,"h":0.5999,"l":0.5966,"c":0.5996,"m":-0.0011},
{"i":312,"o":0.5996,"h":0.6008,"l":0.5994,"c":0.6004,"m":-0.0009},
{"i":313,"o":0.6004,"h":0.6014,"l":0.6002,"c":0.6008,"m":-0.0007},
{"i":314,"o":0.6008,"h":0.601,"l":0.5997,"c":0.6,"m":-0.0006},
{"i":315,"o":0.6,"h":0.6013,"l":0.5998,"c":0.601,"m":-0.0004},
{"i":316,"o":0.601,"h":0.6011,"l":0.5999,"c":0.6002,"m":-0.0003},
{"i":317,"o":0.6002,"h":0.6003,"l":0.5986,"c":0.599,"m":-0.0002},
{"i":318,"o":0.599,"h":0.5992,"l":0.5983,"c":0.5986,"m":-0.0001},
{"i":319,"o":0.59902,"h":0.59935,"l":0.59877,"c":0.59935,"m":0.000081}
],
"ma":[
{"s":"lips","i":-16.4,"p":0.6022},{"s":"lips","i":-14,"p":0.60376},{"s":"lips","i":-11.6,"p":0.60497},{"s":"lips","i":-8,"p":0.6054},{"s":"lips","i":-5.6,"p":0.60557},{"s":"lips","i":-2,"p":0.60514},{"s":"lips","i":0.4,"p":0.60522},{"s":"lips","i":2.8,"p":0.60497},{"s":"lips","i":5.2,"p":0.60428},{"s":"lips","i":7.6,"p":0.60289},{"s":"lips","i":9.4,"p":0.60134},{"s":"lips","i":11.2,"p":0.60099},{"s":"lips","i":13.6,"p":0.60186},{"s":"lips","i":16,"p":0.60324},{"s":"lips","i":18.4,"p":0.60428},{"s":"lips","i":22,"p":0.60497},{"s":"lips","i":24.4,"p":0.6054},{"s":"lips","i":26.8,"p":0.60566},{"s":"lips","i":29.2,"p":0.60635},{"s":"lips","i":31.6,"p":0.60756},{"s":"lips","i":34,"p":0.60842},{"s":"lips","i":37.6,"p":0.60894},{"s":"lips","i":40,"p":0.60877},{"s":"lips","i":42.4,"p":0.60911},{"s":"lips","i":44.8,"p":0.60963},{"s":"lips","i":47.8,"p":0.61084},{"s":"lips","i":50.8,"p":0.61188},{"s":"lips","i":54.4,"p":0.61274},{"s":"lips","i":58,"p":0.61326},{"s":"lips","i":61.6,"p":0.61317},{"s":"lips","i":65.2,"p":0.61343},{"s":"lips","i":68.8,"p":0.61378},{"s":"lips","i":71.2,"p":0.61378},{"s":"lips","i":74.2,"p":0.61343},{"s":"lips","i":76,"p":0.61291},{"s":"lips","i":78.4,"p":0.6117},{"s":"lips","i":80.8,"p":0.61067},{"s":"lips","i":83.2,"p":0.6098},{"s":"lips","i":86.8,"p":0.60894},{"s":"lips","i":89.2,"p":0.60825},{"s":"lips","i":92.8,"p":0.60704},{"s":"lips","i":96.4,"p":0.606},{"s":"lips","i":98.8,"p":0.60548},{"s":"lips","i":101.2,"p":0.60445},{"s":"lips","i":103.6,"p":0.60358},{"s":"lips","i":106,"p":0.60315},{"s":"lips","i":108.4,"p":0.60307},{"s":"lips","i":110.8,"p":0.60358},{"s":"lips","i":113.2,"p":0.60358},{"s":"lips","i":115.6,"p":0.60307},{"s":"lips","i":118,"p":0.60298},{"s":"lips","i":120.4,"p":0.60358},{"s":"lips","i":124,"p":0.60462},{"s":"lips","i":127.6,"p":0.60531},{"s":"lips","i":131.2,"p":0.60583},{"s":"lips","i":134.8,"p":0.60592},{"s":"lips","i":138.4,"p":0.60548},{"s":"lips","i":142,"p":0.60566},{"s":"lips","i":145.6,"p":0.60592},{"s":"lips","i":149.2,"p":0.60566},{"s":"lips","i":152.8,"p":0.60548},{"s":"lips","i":155.2,"p":0.60557},{"s":"lips","i":157.6,"p":0.60548},{"s":"lips","i":161.2,"p":0.60514},{"s":"lips","i":164.8,"p":0.6041},{"s":"lips","i":168.4,"p":0.60272},{"s":"lips","i":170.8,"p":0.60203},{"s":"lips","i":173.2,"p":0.60151},{"s":"lips","i":175.6,"p":0.60125},{"s":"lips","i":179.2,"p":0.60168},{"s":"lips","i":182.8,"p":0.60289},{"s":"lips","i":185.2,"p":0.60376},{"s":"lips","i":187.6,"p":0.60402},{"s":"lips","i":190,"p":0.60497},{"s":"lips","i":192.4,"p":0.60635},{"s":"lips","i":194.8,"p":0.60704},{"s":"lips","i":197.2,"p":0.6079},{"s":"lips","i":199.6,"p":0.60911},{"s":"lips","i":202,"p":0.61049},{"s":"lips","i":205.6,"p":0.61118},{"s":"lips","i":208,"p":0.6117},{"s":"lips","i":211.6,"p":0.61239},{"s":"lips","i":214,"p":0.61291},{"s":"lips","i":216.4,"p":0.61309},{"s":"lips","i":220,"p":0.61326},{"s":"lips","i":222.4,"p":0.61343},{"s":"lips","i":224.8,"p":0.61378},{"s":"lips","i":227.2,"p":0.61369},{"s":"lips","i":229.6,"p":0.61309},{"s":"lips","i":232,"p":0.61188},{"s":"lips","i":234.4,"p":0.61015},{"s":"lips","i":236.8,"p":0.60894},{"s":"lips","i":239.2,"p":0.60825},{"s":"lips","i":241.6,"p":0.6079},{"s":"lips","i":244,"p":0.60764},{"s":"lips","i":246.4,"p":0.60704},{"s":"lips","i":248.8,"p":0.60687},{"s":"lips","i":251.2,"p":0.60721},{"s":"lips","i":253.6,"p":0.60773},{"s":"lips","i":256,"p":0.60842},{"s":"lips","i":258.4,"p":0.60946},{"s":"lips","i":262,"p":0.60972},{"s":"lips","i":265.6,"p":0.60929},{"s":"lips","i":269.2,"p":0.60877},{"s":"lips","i":271.6,"p":0.60808},{"s":"lips","i":274,"p":0.60635},{"s":"lips","i":276.4,"p":0.60462},{"s":"lips","i":278.8,"p":0.60324},{"s":"lips","i":281.2,"p":0.60289},{"s":"lips","i":283,"p":0.60324},{"s":"lips","i":284.8,"p":0.60238},{"s":"lips","i":287.2,"p":0.60117},{"s":"lips","i":289.6,"p":0.60013},{"s":"lips","i":292,"p":0.59979},{"s":"lips","i":294.4,"p":0.59944},{"s":"lips","i":296.8,"p":0.59892},{"s":"lips","i":299.2,"p":0.59858},{"s":"lips","i":301.6,"p":0.5984},{"s":"lips","i":304,"p":0.59788},{"s":"lips","i":306.4,"p":0.59754},{"s":"lips","i":308.8,"p":0.59737},{"s":"lips","i":311.2,"p":0.59719},{"s":"lips","i":313.6,"p":0.59771},{"s":"lips","i":316,"p":0.5984},{"s":"lips","i":318.4,"p":0.59927},{"s":"lips","i":320.8,"p":0.59935},{"s":"lips","i":323.2,"p":0.59909},
{"s":"teeth","i":-16.4,"p":0.60082},{"s":"teeth","i":-12.8,"p":0.6022},{"s":"teeth","i":-9.2,"p":0.60358},{"s":"teeth","i":-5.6,"p":0.60479},{"s":"teeth","i":-2,"p":0.60514},{"s":"teeth","i":2.2,"p":0.60497},{"s":"teeth","i":5.2,"p":0.60462},{"s":"teeth","i":7.6,"p":0.60393},{"s":"teeth","i":10,"p":0.60289},{"s":"teeth","i":12.4,"p":0.60203},{"s":"teeth","i":14.2,"p":0.60194},{"s":"teeth","i":16,"p":0.60238},{"s":"teeth","i":18.4,"p":0.60324},{"s":"teeth","i":22,"p":0.6041},{"s":"teeth","i":25.6,"p":0.60479},{"s":"teeth","i":28,"p":0.60505},{"s":"teeth","i":30.4,"p":0.60514},{"s":"teeth","i":32.8,"p":0.606},{"s":"teeth","i":35.2,"p":0.60687},{"s":"teeth","i":37.6,"p":0.60756},{"s":"teeth","i":40,"p":0.60808},{"s":"teeth","i":42.4,"p":0.60842},{"s":"teeth","i":44.8,"p":0.60894},{"s":"teeth","i":47.8,"p":0.60998},{"s":"teeth","i":50.8,"p":0.61084},{"s":"teeth","i":54.4,"p":0.61153},{"s":"teeth","i":58,"p":0.61205},{"s":"teeth","i":61.6,"p":0.61257},{"s":"teeth","i":65.2,"p":0.61291},{"s":"teeth","i":68.8,"p":0.61291},{"s":"teeth","i":71.2,"p":0.61317},{"s":"teeth","i":74.8,"p":0.61343},{"s":"teeth","i":77.2,"p":0.61309},{"s":"teeth","i":80.8,"p":0.61188},{"s":"teeth","i":84.4,"p":0.61067},{"s":"teeth","i":88,"p":0.60963},{"s":"teeth","i":91.6,"p":0.60877},{"s":"teeth","i":95.2,"p":0.60773},{"s":"teeth","i":98.8,"p":0.60687},{"s":"teeth","i":101.2,"p":0.606},{"s":"teeth","i":103.6,"p":0.60497},{"s":"teeth","i":106,"p":0.60428},{"s":"teeth","i":109.6,"p":0.60376},{"s":"teeth","i":113.2,"p":0.60393},{"s":"teeth","i":115.6,"p":0.60376},{"s":"teeth","i":119.2,"p":0.60324},{"s":"teeth","i":121.6,"p":0.60333},{"s":"teeth","i":125.2,"p":0.60393},{"s":"teeth","i":128.8,"p":0.60445},{"s":"teeth","i":132.4,"p":0.60497},{"s":"teeth","i":136,"p":0.60531},{"s":"teeth","i":140.8,"p":0.60548},{"s":"teeth","i":145.6,"p":0.60557},{"s":"teeth","i":150.4,"p":0.60548},{"s":"teeth","i":155.2,"p":0.6054},{"s":"teeth","i":161.2,"p":0.60514},{"s":"teeth","i":167.2,"p":0.60428},{"s":"teeth","i":170.8,"p":0.60341},{"s":"teeth","i":174.4,"p":0.60255},{"s":"teeth","i":176.8,"p":0.60203},{"s":"teeth","i":179.2,"p":0.60177},{"s":"teeth","i":181.6,"p":0.60186},{"s":"teeth","i":184,"p":0.60255},{"s":"teeth","i":186.4,"p":0.60341},{"s":"teeth","i":188.8,"p":0.60367},{"s":"teeth","i":191.2,"p":0.6041},{"s":"teeth","i":193.6,"p":0.60531},{"s":"teeth","i":197.2,"p":0.60669},{"s":"teeth","i":200.8,"p":0.6079},{"s":"teeth","i":203.2,"p":0.60894},{"s":"teeth","i":206.8,"p":0.61015},{"s":"teeth","i":210.4,"p":0.61118},{"s":"teeth","i":214,"p":0.6117},{"s":"teeth","i":217.6,"p":0.61231},{"s":"teeth","i":221.2,"p":0.61274},{"s":"teeth","i":224.8,"p":0.613},{"s":"teeth","i":227.2,"p":0.61334},{"s":"teeth","i":229.6,"p":0.61343},{"s":"teeth","i":232,"p":0.61291},{"s":"teeth","i":234.4,"p":0.61188},{"s":"teeth","i":236.8,"p":0.61084},{"s":"teeth","i":239.2,"p":0.6098},{"s":"teeth","i":241.6,"p":0.60911},{"s":"teeth","i":244,"p":0.60808},{"s":"teeth","i":246.4,"p":0.60756},{"s":"teeth","i":250,"p":0.60738},{"s":"teeth","i":253.6,"p":0.60756},{"s":"teeth","i":257.2,"p":0.60808},{"s":"teeth","i":260.8,"p":0.60894},{"s":"teeth","i":264.4,"p":0.6092},{"s":"teeth","i":268,"p":0.60903},{"s":"teeth","i":271.6,"p":0.6086},{"s":"teeth","i":274,"p":0.60773},{"s":"teeth","i":276.4,"p":0.60635},{"s":"teeth","i":278.8,"p":0.60497},{"s":"teeth","i":281.2,"p":0.6041},{"s":"teeth","i":283.6,"p":0.60393},{"s":"teeth","i":286,"p":0.60358},{"s":"teeth","i":288.4,"p":0.60255},{"s":"teeth","i":290.8,"p":0.60151},{"s":"teeth","i":294.4,"p":0.60082},{"s":"teeth","i":298,"p":0.60013},{"s":"teeth","i":301.6,"p":0.59944},{"s":"teeth","i":305.2,"p":0.59909},{"s":"teeth","i":308.8,"p":0.59875},{"s":"teeth","i":312.4,"p":0.59806},{"s":"teeth","i":314.8,"p":0.59806},{"s":"teeth","i":317.2,"p":0.59849},{"s":"teeth","i":319.6,"p":0.59892},{"s":"teeth","i":322,"p":0.59918},{"s":"teeth","i":324.4,"p":0.59927},
{"s":"jaw","i":-16.4,"p":0.59987},{"s":"jaw","i":-12.8,"p":0.60048},{"s":"jaw","i":-9.2,"p":0.60151},{"s":"jaw","i":-5.6,"p":0.60272},{"s":"jaw","i":-2,"p":0.60358},{"s":"jaw","i":1.6,"p":0.60393},{"s":"jaw","i":5.2,"p":0.60419},{"s":"jaw","i":7.6,"p":0.60431},{"s":"jaw","i":10,"p":0.6041},{"s":"jaw","i":12.4,"p":0.60358},{"s":"jaw","i":14.8,"p":0.60289},{"s":"jaw","i":17.2,"p":0.60246},{"s":"jaw","i":19.6,"p":0.60263},{"s":"jaw","i":22,"p":0.60315},{"s":"jaw","i":25.6,"p":0.60367},{"s":"jaw","i":29.2,"p":0.60428},{"s":"jaw","i":31.6,"p":0.60462},{"s":"jaw","i":34,"p":0.60514},{"s":"jaw","i":36.4,"p":0.606},{"s":"jaw","i":38.8,"p":0.60669},{"s":"jaw","i":41.2,"p":0.60721},{"s":"jaw","i":44.8,"p":0.60738},{"s":"jaw","i":47.8,"p":0.60764},{"s":"jaw","i":50.8,"p":0.60842},{"s":"jaw","i":54.4,"p":0.60929},{"s":"jaw","i":58,"p":0.61015},{"s":"jaw","i":61.6,"p":0.61101},{"s":"jaw","i":65.2,"p":0.61153},{"s":"jaw","i":68.8,"p":0.61179},{"s":"jaw","i":72.4,"p":0.61222},{"s":"jaw","i":76,"p":0.61265},{"s":"jaw","i":79,"p":0.61283},{"s":"jaw","i":82,"p":0.61248},{"s":"jaw","i":85.6,"p":0.61188},{"s":"jaw","i":89.2,"p":0.61101},{"s":"jaw","i":92.8,"p":0.61032},{"s":"jaw","i":96.4,"p":0.60946},{"s":"jaw","i":100,"p":0.60842},{"s":"jaw","i":103.6,"p":0.60756},{"s":"jaw","i":107.2,"p":0.60635},{"s":"jaw","i":110.8,"p":0.60531},{"s":"jaw","i":113.2,"p":0.60497},{"s":"jaw","i":116.8,"p":0.60479},{"s":"jaw","i":120.4,"p":0.60445},{"s":"jaw","i":124,"p":0.60393},{"s":"jaw","i":127.6,"p":0.60402},{"s":"jaw","i":131.2,"p":0.60428},{"s":"jaw","i":134.8,"p":0.60462},{"s":"jaw","i":138.4,"p":0.60505},{"s":"jaw","i":143.2,"p":0.6054},{"s":"jaw","i":148,"p":0.60566},{"s":"jaw","i":152.8,"p":0.60557},{"s":"jaw","i":160,"p":0.60548},{"s":"jaw","i":164.8,"p":0.60531},{"s":"jaw","i":169.6,"p":0.60497},{"s":"jaw","i":173.2,"p":0.60428},{"s":"jaw","i":176.8,"p":0.60341},{"s":"jaw","i":180.4,"p":0.60281},{"s":"jaw","i":184,"p":0.60246},{"s":"jaw","i":187.6,"p":0.60289},{"s":"jaw","i":191.2,"p":0.60341},{"s":"jaw","i":193.6,"p":0.60358},{"s":"jaw","i":197.2,"p":0.60462},{"s":"jaw","i":200.8,"p":0.606},{"s":"jaw","i":204.4,"p":0.60721},{"s":"jaw","i":208,"p":0.60842},{"s":"jaw","i":211.6,"p":0.60946},{"s":"jaw","i":215.2,"p":0.61015},{"s":"jaw","i":218.8,"p":0.61084},{"s":"jaw","i":222.4,"p":0.61153},{"s":"jaw","i":226,"p":0.61205},{"s":"jaw","i":229.6,"p":0.61257},{"s":"jaw","i":233.2,"p":0.61274},{"s":"jaw","i":235.6,"p":0.61248},{"s":"jaw","i":238,"p":0.61188},{"s":"jaw","i":241.6,"p":0.61084},{"s":"jaw","i":245.2,"p":0.60998},{"s":"jaw","i":248.8,"p":0.60911},{"s":"jaw","i":252.4,"p":0.60842},{"s":"jaw","i":256,"p":0.60816},{"s":"jaw","i":259.6,"p":0.60808},{"s":"jaw","i":263.2,"p":0.60859},{"s":"jaw","i":266.8,"p":0.60894},{"s":"jaw","i":270.4,"p":0.60903},{"s":"jaw","i":274,"p":0.60877},{"s":"jaw","i":277.6,"p":0.60842},{"s":"jaw","i":281.2,"p":0.60704},{"s":"jaw","i":283.6,"p":0.60566},{"s":"jaw","i":287.2,"p":0.60505},{"s":"jaw","i":289.6,"p":0.60479},{"s":"jaw","i":293.2,"p":0.60358},{"s":"jaw","i":296.8,"p":0.60238},{"s":"jaw","i":300.4,"p":0.60151},{"s":"jaw","i":304,"p":0.60082},{"s":"jaw","i":307.6,"p":0.6003},{"s":"jaw","i":311.2,"p":0.59979},{"s":"jaw","i":314.8,"p":0.59909},{"s":"jaw","i":318.4,"p":0.59858},{"s":"jaw","i":320.8,"p":0.59892},{"s":"jaw","i":324.4,"p":0.59918},{"s":"jaw","i":326.8,"p":0.59909}
],
"sig":[{"i":-17,"v":0.0009},{"i":-10.4,"v":0.00151},{"i":-0.8,"v":0.00102},{"i":6.4,"v":-0.0001},{"i":11.2,"v":-0.00066},{"i":16,"v":-0.00027},{"i":22,"v":0.00054},{"i":32.8,"v":0.00129},{"i":43.6,"v":0.00102},{"i":54.4,"v":0.00145},{"i":64,"v":0.00112},{"i":71.2,"v":0.00087},{"i":78.4,"v":-0.0001},{"i":86.8,"v":-0.00093},{"i":96.4,"v":-0.00157},{"i":103.6,"v":-0.0019},{"i":112,"v":-0.00125},{"i":120.4,"v":-0.00059},{"i":126.4,"v":0},{"i":128.8,"v":0.00021},{"i":138.4,"v":0.00028},{"i":144.4,"v":0.00028},{"i":150.4,"v":0.00008},{"i":160,"v":0},{"i":167.2,"v":-0.00069},{"i":174.4,"v":-0.00118},{"i":180.4,"v":-0.00059},{"i":186.4,"v":0.00038},{"i":192.4,"v":0.00102},{"i":198.4,"v":0.00168},{"i":204.4,"v":0.0019},{"i":210.4,"v":0.00184},{"i":216.4,"v":0.0016},{"i":222.4,"v":0.00119},{"i":228.4,"v":0.0006},{"i":232,"v":0},{"i":236.8,"v":-0.00093},{"i":241.6,"v":-0.00125},{"i":246.4,"v":-0.00108},{"i":252.4,"v":-0.0005},{"i":258.4,"v":0.0002},{"i":263.2,"v":0.00038},{"i":270.4,"v":-0.0002},{"i":275.2,"v":-0.00157},{"i":278.8,"v":-0.0018},{"i":288.4,"v":-0.0019},{"i":300.4,"v":-0.00141},{"i":311.2,"v":-0.00102},{"i":319.6,"v":-0.00008}]
},
"vconcat":[
{"width":1171,"height":458,
"layer":[
{"data":{"name":"vgrid"},"mark":{"type":"rule","color":"#c8c8c8","strokeDash":[2,2],"strokeWidth":1},
 "encoding":{"x":{"field":"i","type":"quantitative","title":null,"axis":null,"scale":{"domain":[-17.28,404.28],"nice":false,"zero":false}}}},
{"data":{"name":"days"},"mark":{"type":"rule","color":"#222222","strokeDash":[2,2],"strokeWidth":1},
 "encoding":{"x":{"field":"i","type":"quantitative","title":null,"axis":null,"scale":{"domain":[-17.28,404.28],"nice":false,"zero":false}}}},
{"data":{"name":"lvthin"},"mark":{"type":"rule","color":"#f2281c","strokeWidth":1},
 "encoding":{"y":{"field":"p","type":"quantitative","title":null,"scale":{"domain":[0.594896,0.618629],"nice":false,"zero":false},
  "axis":{"orient":"right","values":[0.595,0.5962,0.5974,0.5986,0.5998,0.601,0.6022,0.6034,0.6046,0.6058,0.607,0.6082,0.6094,0.6106,0.6118,0.613,0.6142,0.6154,0.6166,0.6178],"format":".5f","grid":true,"gridColor":"#c8c8c8","gridDash":[2,2],"tickSize":3,"labelPadding":1,"labelFontSize":6.3,"labelBaseline":"middle","labelOverlap":false,"labelSeparation":0,"labelBound":false,"domain":false}}}},
{"data":{"name":"lvthick"},"mark":{"type":"rule","color":"#f39a96","strokeWidth":2},
 "encoding":{"y":{"field":"p","type":"quantitative","title":null,"scale":{"domain":[0.594896,0.618629],"nice":false,"zero":false},
  "axis":{"orient":"right","values":[0.595,0.5962,0.5974,0.5986,0.5998,0.601,0.6022,0.6034,0.6046,0.6058,0.607,0.6082,0.6094,0.6106,0.6118,0.613,0.6142,0.6154,0.6166,0.6178],"format":".5f","grid":true,"gridColor":"#c8c8c8","gridDash":[2,2],"tickSize":3,"labelPadding":1,"labelFontSize":6.3,"labelBaseline":"middle","labelOverlap":false,"labelSeparation":0,"labelBound":false,"domain":false}}}},
{"data":{"name":"cur"},"mark":{"type":"rule","color":"#c4c4c4","strokeWidth":1},
 "encoding":{"y":{"field":"p","type":"quantitative","title":null,"scale":{"domain":[0.594896,0.618629],"nice":false,"zero":false},
  "axis":{"orient":"right","values":[0.595,0.5962,0.5974,0.5986,0.5998,0.601,0.6022,0.6034,0.6046,0.6058,0.607,0.6082,0.6094,0.6106,0.6118,0.613,0.6142,0.6154,0.6166,0.6178],"format":".5f","grid":true,"gridColor":"#c8c8c8","gridDash":[2,2],"tickSize":3,"labelPadding":1,"labelFontSize":6.3,"labelBaseline":"middle","labelOverlap":false,"labelSeparation":0,"labelBound":false,"domain":false}}}},
{"data":{"name":"bars"},"mark":{"type":"rule","strokeWidth":1},
 "encoding":{"x":{"field":"i","type":"quantitative","title":null,"axis":null,"scale":{"domain":[-17.28,404.28],"nice":false,"zero":false}},
  "y":{"field":"l","type":"quantitative","title":null,"scale":{"domain":[0.594896,0.618629],"nice":false,"zero":false},
  "axis":{"orient":"right","values":[0.595,0.5962,0.5974,0.5986,0.5998,0.601,0.6022,0.6034,0.6046,0.6058,0.607,0.6082,0.6094,0.6106,0.6118,0.613,0.6142,0.6154,0.6166,0.6178],"format":".5f","grid":true,"gridColor":"#c8c8c8","gridDash":[2,2],"tickSize":3,"labelPadding":1,"labelFontSize":6.3,"labelBaseline":"middle","labelOverlap":false,"labelSeparation":0,"labelBound":false,"domain":false}},
  "y2":{"field":"h"},
  "color":{"condition":{"test":"datum.c >= datum.o","value":"#8ea6ea"},"value":"#3557d0"}}},
{"data":{"name":"bars"},"mark":{"type":"rule","strokeWidth":2},
 "encoding":{"x":{"field":"i","type":"quantitative","title":null,"axis":null,"scale":{"domain":[-17.28,404.28],"nice":false,"zero":false}},
  "y":{"field":"o","type":"quantitative","title":null,"scale":{"domain":[0.594896,0.618629],"nice":false,"zero":false},
  "axis":{"orient":"right","values":[0.595,0.5962,0.5974,0.5986,0.5998,0.601,0.6022,0.6034,0.6046,0.6058,0.607,0.6082,0.6094,0.6106,0.6118,0.613,0.6142,0.6154,0.6166,0.6178],"format":".5f","grid":true,"gridColor":"#c8c8c8","gridDash":[2,2],"tickSize":3,"labelPadding":1,"labelFontSize":6.3,"labelBaseline":"middle","labelOverlap":false,"labelSeparation":0,"labelBound":false,"domain":false}},
  "y2":{"field":"c"},
  "color":{"condition":{"test":"datum.c >= datum.o","value":"#8ea6ea"},"value":"#3557d0"}}},
{"data":{"name":"ma"},"mark":{"type":"line","strokeWidth":1},
 "encoding":{"x":{"field":"i","type":"quantitative","title":null,"axis":null,"scale":{"domain":[-17.28,404.28],"nice":false,"zero":false}},
  "y":{"field":"p","type":"quantitative","title":null,"scale":{"domain":[0.594896,0.618629],"nice":false,"zero":false},
  "axis":{"orient":"right","values":[0.595,0.5962,0.5974,0.5986,0.5998,0.601,0.6022,0.6034,0.6046,0.6058,0.607,0.6082,0.6094,0.6106,0.6118,0.613,0.6142,0.6154,0.6166,0.6178],"format":".5f","grid":true,"gridColor":"#c8c8c8","gridDash":[2,2],"tickSize":3,"labelPadding":1,"labelFontSize":6.3,"labelBaseline":"middle","labelOverlap":false,"labelSeparation":0,"labelBound":false,"domain":false}},
  "color":{"field":"s","type":"nominal","legend":null,"scale":{"domain":["lips","teeth","jaw"],"range":["#2fd42f","#ee2a2a","#2b2bd2"]}}}},
{"data":{"name":"trend"},"mark":{"type":"line","strokeWidth":1,"color":"#ee3a30","clip":true},
 "encoding":{"x":{"field":"i","type":"quantitative","title":null,"axis":null,"scale":{"domain":[-17.28,404.28],"nice":false,"zero":false}},
  "y":{"field":"p","type":"quantitative","title":null,"scale":{"domain":[0.594896,0.618629],"nice":false,"zero":false},
  "axis":{"orient":"right","values":[0.595,0.5962,0.5974,0.5986,0.5998,0.601,0.6022,0.6034,0.6046,0.6058,0.607,0.6082,0.6094,0.6106,0.6118,0.613,0.6142,0.6154,0.6166,0.6178],"format":".5f","grid":true,"gridColor":"#c8c8c8","gridDash":[2,2],"tickSize":3,"labelPadding":1,"labelFontSize":6.3,"labelBaseline":"middle","labelOverlap":false,"labelSeparation":0,"labelBound":false,"domain":false}}}},
{"data":{"name":"lvall"},"mark":{"type":"tick","orient":"horizontal","color":"#ee1c1c","size":27,"thickness":8,"opacity":1},
 "encoding":{"x":{"datum":409.5,"type":"quantitative","axis":null,"scale":{"domain":[-17.28,404.28],"nice":false,"zero":false}},
  "y":{"field":"p","type":"quantitative","title":null,"scale":{"domain":[0.594896,0.618629],"nice":false,"zero":false},
  "axis":{"orient":"right","values":[0.595,0.5962,0.5974,0.5986,0.5998,0.601,0.6022,0.6034,0.6046,0.6058,0.607,0.6082,0.6094,0.6106,0.6118,0.613,0.6142,0.6154,0.6166,0.6178],"format":".5f","grid":true,"gridColor":"#c8c8c8","gridDash":[2,2],"tickSize":3,"labelPadding":1,"labelFontSize":6.3,"labelBaseline":"middle","labelOverlap":false,"labelSeparation":0,"labelBound":false,"domain":false}}}},
{"data":{"name":"lvall"},"mark":{"type":"text","align":"left","baseline":"middle","fontSize":6.3,"color":"#ffffff"},
 "encoding":{"x":{"datum":405.9,"type":"quantitative","axis":null,"scale":{"domain":[-17.28,404.28],"nice":false,"zero":false}},
  "y":{"field":"p","type":"quantitative","title":null,"scale":{"domain":[0.594896,0.618629],"nice":false,"zero":false},
  "axis":{"orient":"right","values":[0.595,0.5962,0.5974,0.5986,0.5998,0.601,0.6022,0.6034,0.6046,0.6058,0.607,0.6082,0.6094,0.6106,0.6118,0.613,0.6142,0.6154,0.6166,0.6178],"format":".5f","grid":true,"gridColor":"#c8c8c8","gridDash":[2,2],"tickSize":3,"labelPadding":1,"labelFontSize":6.3,"labelBaseline":"middle","labelOverlap":false,"labelSeparation":0,"labelBound":false,"domain":false}},
  "text":{"field":"p","type":"quantitative","format":".5f"}}},
{"data":{"name":"cur"},"mark":{"type":"tick","orient":"horizontal","color":"#000000","size":27,"thickness":8},
 "encoding":{"x":{"datum":409.5,"type":"quantitative","axis":null,"scale":{"domain":[-17.28,404.28],"nice":false,"zero":false}},
  "y":{"field":"p","type":"quantitative","title":null,"scale":{"domain":[0.594896,0.618629],"nice":false,"zero":false},
  "axis":{"orient":"right","values":[0.595,0.5962,0.5974,0.5986,0.5998,0.601,0.6022,0.6034,0.6046,0.6058,0.607,0.6082,0.6094,0.6106,0.6118,0.613,0.6142,0.6154,0.6166,0.6178],"format":".5f","grid":true,"gridColor":"#c8c8c8","gridDash":[2,2],"tickSize":3,"labelPadding":1,"labelFontSize":6.3,"labelBaseline":"middle","labelOverlap":false,"labelSeparation":0,"labelBound":false,"domain":false}}}},
{"data":{"name":"cur"},"mark":{"type":"text","align":"left","baseline":"middle","fontSize":6.3,"color":"#ffffff"},
 "encoding":{"x":{"datum":405.9,"type":"quantitative","axis":null,"scale":{"domain":[-17.28,404.28],"nice":false,"zero":false}},
  "y":{"field":"p","type":"quantitative","title":null,"scale":{"domain":[0.594896,0.618629],"nice":false,"zero":false},
  "axis":{"orient":"right","values":[0.595,0.5962,0.5974,0.5986,0.5998,0.601,0.6022,0.6034,0.6046,0.6058,0.607,0.6082,0.6094,0.6106,0.6118,0.613,0.6142,0.6154,0.6166,0.6178],"format":".5f","grid":true,"gridColor":"#c8c8c8","gridDash":[2,2],"tickSize":3,"labelPadding":1,"labelFontSize":6.3,"labelBaseline":"middle","labelOverlap":false,"labelSeparation":0,"labelBound":false,"domain":false}},
  "text":{"field":"p","type":"quantitative","format":".5f"}}},
{"data":{"name":"head"},"mark":{"type":"text","align":"left","baseline":"middle","fontSize":6.8,"color":"#000000"},
 "encoding":{"x":{"datum":-12.6,"type":"quantitative","axis":null,"scale":{"domain":[-17.28,404.28],"nice":false,"zero":false}},
  "y":{"datum":0.618354,"type":"quantitative","scale":{"domain":[0.594896,0.618629],"nice":false,"zero":false},
  "axis":{"orient":"right","values":[0.595,0.5962,0.5974,0.5986,0.5998,0.601,0.6022,0.6034,0.6046,0.6058,0.607,0.6082,0.6094,0.6106,0.6118,0.613,0.6142,0.6154,0.6166,0.6178],"format":".5f","grid":true,"gridColor":"#c8c8c8","gridDash":[2,2],"tickSize":3,"labelPadding":1,"labelFontSize":6.3,"labelBaseline":"middle","labelOverlap":false,"labelSeparation":0,"labelBound":false,"domain":false}},
  "text":{"field":"t"}}},
{"data":{"name":"head"},"mark":{"type":"text","align":"center","baseline":"middle","fontSize":5,"color":"#000000","text":"▼"},
 "encoding":{"x":{"datum":-14.9,"type":"quantitative","axis":null,"scale":{"domain":[-17.28,404.28],"nice":false,"zero":false}},
  "y":{"datum":0.61836,"type":"quantitative","scale":{"domain":[0.594896,0.618629],"nice":false,"zero":false},
  "axis":{"orient":"right","values":[0.595,0.5962,0.5974,0.5986,0.5998,0.601,0.6022,0.6034,0.6046,0.6058,0.607,0.6082,0.6094,0.6106,0.6118,0.613,0.6142,0.6154,0.6166,0.6178],"format":".5f","grid":true,"gridColor":"#c8c8c8","gridDash":[2,2],"tickSize":3,"labelPadding":1,"labelFontSize":6.3,"labelBaseline":"middle","labelOverlap":false,"labelSeparation":0,"labelBound":false,"domain":false}}}}
]},
{"width":1171,"height":48,
"layer":[
{"data":{"name":"vgrid"},"mark":{"type":"rule","color":"#c8c8c8","strokeDash":[2,2],"strokeWidth":1},
 "encoding":{"x":{"field":"i","type":"quantitative","title":null,"scale":{"domain":[-17.28,404.28],"nice":false,"zero":false},
  "axis":{"orient":"bottom","values":[-16,0,16,32,48,64,80,96,112,128,144,160,176,192,208,224,240,256,272,288,304],"labelExpr":"['27 Apr 2020','28 Apr 00:00','28 Apr 16:00','29 Apr 08:00','30 Apr 00:00','30 Apr 16:00','1 May 08:00','4 May 00:00','4 May 16:00','5 May 08:00','6 May 00:00','6 May 16:00','7 May 08:00','8 May 00:00','8 May 16:00','11 May 08:00','12 May 00:00','12 May 16:00','13 May 08:00','14 May 00:00','14 May 16:00'][(datum.value+16)/16]","labelAlign":"left","labelOffset":-1,"labelFlush":false,"labelOverlap":false,"labelBound":false,"tickSize":3,"labelPadding":0,"labelFontSize":6.5,"grid":false,"domain":false}}}},
{"data":{"name":"days"},"mark":{"type":"rule","color":"#222222","strokeDash":[2,2],"strokeWidth":1},
 "encoding":{"x":{"field":"i","type":"quantitative","title":null,"scale":{"domain":[-17.28,404.28],"nice":false,"zero":false}}}},
{"data":{"name":"bars"},"mark":{"type":"rule","strokeWidth":1,"color":"#b4b4b4"},
 "encoding":{"x":{"field":"i","type":"quantitative","title":null,"scale":{"domain":[-17.28,404.28],"nice":false,"zero":false}},
  "y":{"field":"m","type":"quantitative","title":null,"scale":{"domain":[-0.00232,0.002355],"nice":false,"zero":false},
   "axis":{"orient":"right","values":[-0.00232,0,0.002355],"labelExpr":"datum.value > 0.001 ? '0.002355' : (datum.value < -0.001 ? '-0.00232' : '0.00')","labelFlush":true,"grid":true,"gridColor":"#c8c8c8","gridDash":[2,2],"tickSize":3,"labelPadding":0,"labelFontSize":5.6,"labelOverlap":false,"labelBound":false,"domain":false}},
  "y2":{"datum":0}}},
{"data":{"name":"sig"},"mark":{"type":"line","strokeWidth":1,"color":"#e02a2a","strokeDash":[2,2]},
 "encoding":{"x":{"field":"i","type":"quantitative","title":null,"scale":{"domain":[-17.28,404.28],"nice":false,"zero":false}},
  "y":{"field":"v","type":"quantitative","title":null,"scale":{"domain":[-0.00232,0.002355],"nice":false,"zero":false},
   "axis":{"orient":"right","values":[-0.00232,0,0.002355],"labelExpr":"datum.value > 0.001 ? '0.002355' : (datum.value < -0.001 ? '-0.00232' : '0.00')","labelFlush":true,"grid":true,"gridColor":"#c8c8c8","gridDash":[2,2],"tickSize":3,"labelPadding":0,"labelFontSize":5.6,"labelOverlap":false,"labelBound":false,"domain":false}}}},
{"data":{"name":"mhead"},"mark":{"type":"text","align":"left","baseline":"middle","fontSize":6.5,"color":"#000000"},
 "encoding":{"x":{"datum":-15.1,"type":"quantitative","scale":{"domain":[-17.28,404.28],"nice":false,"zero":false}},
  "y":{"datum":0.00167,"type":"quantitative","scale":{"domain":[-0.00232,0.002355],"nice":false,"zero":false},
   "axis":{"orient":"right","values":[-0.00232,0,0.002355],"labelExpr":"datum.value > 0.001 ? '0.002355' : (datum.value < -0.001 ? '-0.00232' : '0.00')","labelFlush":true,"grid":true,"gridColor":"#c8c8c8","gridDash":[2,2],"tickSize":3,"labelPadding":0,"labelFontSize":5.6,"labelOverlap":false,"labelBound":false,"domain":false}},
  "text":{"field":"t"}}}
]}
]
}
